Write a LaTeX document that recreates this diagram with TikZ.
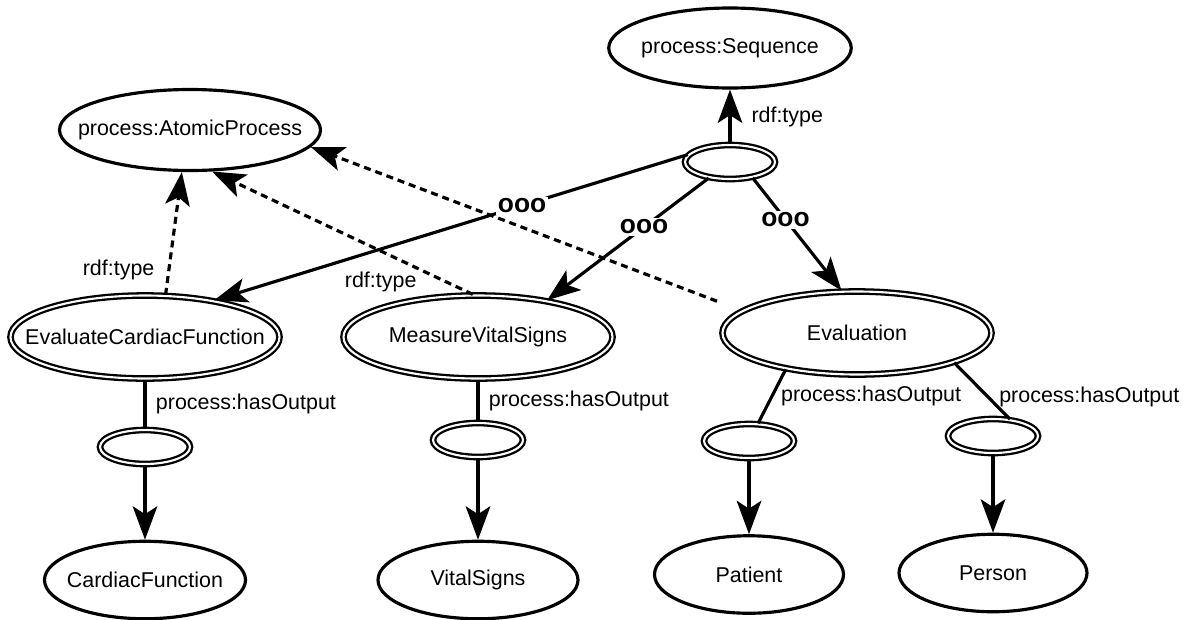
\documentclass[tikz,border=0pt]{standalone}
\usepackage{fontspec}
\setmainfont{Liberation Sans}
\usetikzlibrary{shapes.geometric,arrows.meta}
\def\blankwidth{1.8cm}

\begin{document}
\begin{tikzpicture}[line width=1.8pt, >={Stealth[length=19pt,width=14pt,inset=4.5pt]}, font=\fontsize{12.2}{14}\selectfont]
    \tikzstyle{class}=[ellipse, draw, inner xsep=-1cm, inner ysep=-0.3cm, minimum height=1.55cm]
    \tikzstyle{process}=[class, double, double distance=1.2pt, line width=1.3pt, minimum width=5.38cm, minimum height=1.66cm]
    \tikzstyle{blank}=[class, double, double distance=1.2pt, line width=1.3pt, minimum width=\blankwidth, minimum height=0.68cm]
    \tikzstyle{typeof}=[->, dash pattern=on 4pt off 2.8pt]
    \tikzstyle{seqlabel}=[fill=white, inner sep=1pt, font=\fontsize{15}{15}\selectfont\bfseries]

    \useasboundingbox (0,0) rectangle (23.82,-12.38);

    % Draw the top classes and the sequence node
    \node[class, minimum width=4.85cm, minimum height=1.6cm] (Seq) at (14.6,-0.96) {process:Sequence};
    \node[class, minimum width=5.22cm, minimum height=1.62cm] (AP) at (3.8,-2.6) {process:AtomicProcess};
    \node[blank] (SB) at (14.6,-3.24) {};

    % Draw the process nodes
    \node[process] (ECF) at (2.9,-6.74) {EvaluateCardiacFunction};
    \node[process] (MVS) at (9.56,-6.74) {MeasureVitalSigns};
    \node[process] (Eval) at (17.14,-6.66) {Evaluation};

    % Draw the output nodes
    \foreach \name / \x / \y in {B1/2.9/-8.94, B2/9.56/-8.8, B3/14.98/-8.82, B4/19.86/-8.72}
        \node[blank] (\name) at (\x,\y) {};

    % Draw the output classes
    \foreach \name / \x / \y / \w / \txt in {CF/2.9/-11.6/4.02/CardiacFunction, VS/9.56/-11.6/4.0/VitalSigns, Pat/14.98/-11.49/3.78/Patient, Per/19.86/-11.46/3.76/Person}
        \node[class, minimum width=\w cm] (\name) at (\x,\y) {\txt};

    % Connect the processes to process:AtomicProcess
    \draw[typeof] (ECF.64) -- node[pos=0.2, left=4pt] {rdf:type} (AP.259);
    \draw[typeof] (MVS.97) -- node[pos=0.1, left=13pt] {rdf:type} (AP.298);
    \draw[typeof, shorten <=15pt] (Eval.169) -- (AP.-8);

    % Connect the sequence node
    \draw[->] (SB) -- node[right=8pt] {rdf:type} (Seq);
    \draw[->] (SB.170) -- node[seqlabel, pos=0.35] {ooo} (ECF.28);
    \draw[->] (SB) -- node[seqlabel, pos=0.4] {ooo} (MVS.28);
    \draw[->] (SB.-35) -- node[seqlabel, pos=0.37] {ooo} (Eval.110);

    % Connect the processes with their outputs
    \draw (ECF) -- node[right=2pt] {process:hasOutput} (B1);
    \draw (MVS) -- node[right=2pt] {process:hasOutput} (B2);
    \draw (Eval.207) -- node[right=1pt] {process:hasOutput} (B3);
    \draw (Eval.-17) -- node[pos=0.55, anchor=west, xshift=4pt, yshift=-2pt] {process:hasOutput} (B4.45);

    % Connect every output with its class
    \foreach \source / \dest in {B1/CF, B2/VS, B3/Pat, B4/Per}
        \draw[->] (\source) -- (\dest);
\end{tikzpicture}
\end{document}
